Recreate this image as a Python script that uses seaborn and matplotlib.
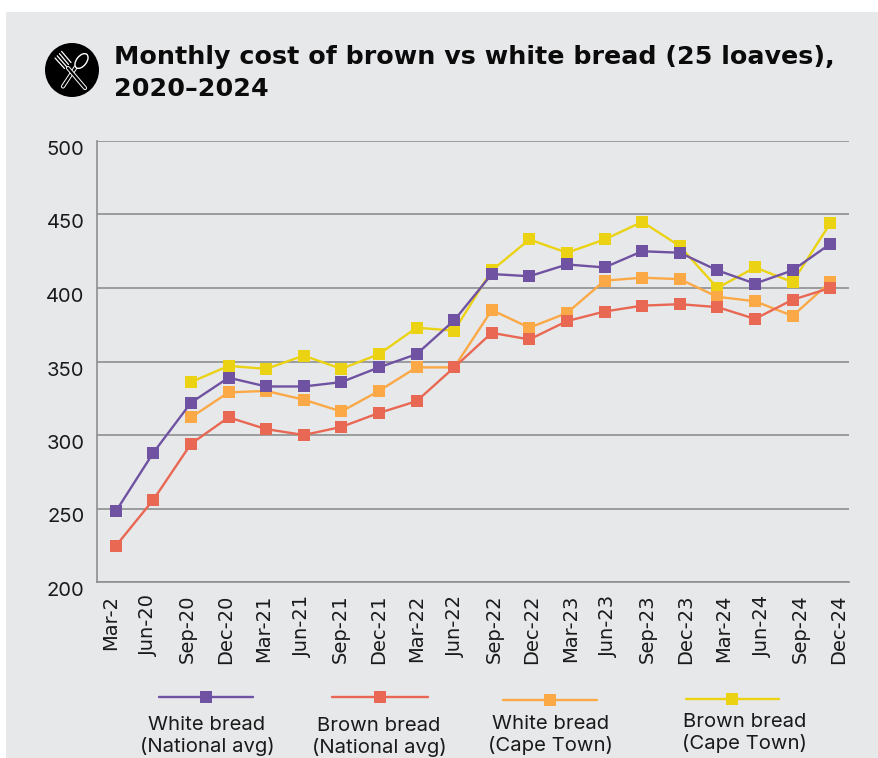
import matplotlib
matplotlib.use("Agg")
import matplotlib.pyplot as plt
from matplotlib.lines import Line2D
from matplotlib.patches import Circle, Ellipse, Rectangle
from matplotlib.transforms import ScaledTranslation
import pandas as pd
import seaborn as sns

quarters = ["Mar-2", "Jun-20", "Sep-20", "Dec-20", "Mar-21", "Jun-21", "Sep-21",
            "Dec-21", "Mar-22", "Jun-22", "Sep-22", "Dec-22", "Mar-23", "Jun-23",
            "Sep-23", "Dec-23", "Mar-24", "Jun-24", "Sep-24", "Dec-24"]
white_national = [248, 288, 322, 339, 333, 333, 336, 346, 355, 378,
                  409.5, 408, 416, 414, 425, 424, 412, 403, 412, 430]
brown_national = [224.5, 256, 294, 312, 304, 300, 305.5, 315, 323, 346,
                  369.5, 365, 377.5, 384, 388, 389, 387, 379, 392, 400]
white_cape = [None, None, 312, 329, 330, 324, 316, 330, 346, 346,
              385, 373, 383, 405, 407, 406, 394, 391, 381, 404]
brown_cape = [None, None, 336, 347, 345, 354, 345, 355, 373, 371,
              412, 433, 424, 433, 445, 428.5, 400, 414, 404, 444]

series_names = ["White bread (National avg)", "Brown bread (National avg)",
                "White bread (Cape Town)", "Brown bread (Cape Town)"]
series_colors = ["#7052A2", "#E96853", "#FBA846", "#EBD314"]
legend_lines = ["White bread\n(National avg)", "Brown bread\n(National avg)",
                "White bread\n(Cape Town)", "Brown bread\n(Cape Town)"]

BG = "#E7E8EA"
W, H = 879, 758
MARKER = 8.7
LINE = 1.7

sns.set_theme(style="white")
plt.rcParams["font.family"] = ["Inter", "DejaVu Sans"]

fig = plt.figure(figsize=(W / 100, H / 100), dpi=100, facecolor="white")


def px(x, y):
    """Figure-fraction coordinates for a pixel position measured from the top left."""
    return x / W, 1 - y / H


fig.patches.append(Rectangle((6 / W, 0), (W - 6) / W, 1 - 12 / H,
                             transform=fig.transFigure, facecolor=BG,
                             edgecolor="none", zorder=-5))

ax = fig.add_axes([97 / W, 1 - 582 / H, 752 / W, 441 / H])
ax.patch.set_alpha(0)

frame = pd.DataFrame({"quarter": quarters,
                      series_names[0]: white_national,
                      series_names[1]: brown_national,
                      series_names[2]: white_cape,
                      series_names[3]: brown_cape})
long = frame.melt(id_vars="quarter", var_name="series", value_name="cost").dropna()
long["pos"] = long["quarter"].map({q: i for i, q in enumerate(quarters)})

# Later series sit under earlier ones: yellow at the bottom, purple on top.
for name, color, z in zip(series_names, series_colors, [6, 5, 4, 3]):
    sns.lineplot(data=long[long["series"] == name], x="pos", y="cost", ax=ax,
                 color=color, linewidth=LINE, marker="s", markersize=MARKER,
                 markeredgewidth=0, errorbar=None, zorder=z, clip_on=False)

ax.set_xlim(-0.5, len(quarters) - 0.5)
ax.set_ylim(200, 500)
ax.set_yticks(range(200, 501, 50))
ax.set_xticks(range(len(quarters)))
ax.set_xticklabels(quarters, rotation=90, fontsize=14, color="#1a1a1a",
                   family=["DejaVu Sans"])
ax.set_xlabel("")
ax.set_ylabel("")
ax.tick_params(axis="x", length=0, pad=9)
ax.tick_params(axis="y", length=0, pad=9, labelsize=14.5, labelcolor="#1a1a1a")
for label in ax.get_yticklabels():
    label.set_verticalalignment("top")

# The month labels run on a slightly wider pitch than the plotted points.
for i, label in enumerate(ax.get_xticklabels()):
    dx = (-5.3 + 13.8 * i / (len(quarters) - 1)) / fig.dpi
    label.set_transform(label.get_transform() + ScaledTranslation(dx, 0, fig.dpi_scale_trans))

ax.grid(axis="y", color="#8E8F91", linewidth=1.2, zorder=1)
ax.set_axisbelow(True)
sns.despine(ax=ax, top=True, right=True)
for side in ("left", "bottom"):
    ax.spines[side].set_color("#8E8F91")
    ax.spines[side].set_linewidth(1.2)

# Title
for text, y in (("Monthly cost of brown vs white bread (25 loaves),", 57),
                ("2020–2024", 89)):
    fig.text(*px(114, y), text, fontsize=18.3, fontweight="bold", color="#0b0b0b",
             family=["DejaVu Sans"], va="center", ha="left")

# Round badge with crossed cutlery
icon = fig.add_axes([45 / W, 1 - 97 / H, 54 / W, 54 / H])
icon.set_xlim(-27, 27)
icon.set_ylim(27, -27)
icon.axis("off")
icon.add_patch(Circle((0, 0), 27, facecolor="black", edgecolor="none"))
outline = dict(color="white", solid_capstyle="round")
fill = dict(color="black", solid_capstyle="round")
# spoon
icon.plot([3.5, -9], [-2.5, 16.5], linewidth=3.0, zorder=2, **outline)
icon.plot([3.5, -9], [-2.5, 16.5], linewidth=1.6, zorder=2.1, **fill)
icon.add_patch(Ellipse((9.5, -9), 10, 17, angle=38, facecolor="black",
                       edgecolor="white", linewidth=1.0, zorder=2.2))
# fork: handle, then the tines fanning from its neck
icon.plot([-4, 13], [-2, 18], linewidth=3.0, zorder=3, **outline)
icon.plot([-4, 13], [-2, 18], linewidth=1.6, zorder=3.1, **fill)
for x0, y0, x1, y1 in [(-17, -12, -7.5, -1.5), (-14.8, -14.2, -5.5, -3.5),
                       (-12.6, -16.4, -3.5, -5.5), (-10.4, -18.6, -1.0, -7.5)]:
    icon.plot([x0, x1], [y0, y1], color="white", linewidth=0.9, zorder=3.2,
              solid_capstyle="round")

# Legend keys and captions placed by hand in four uneven columns
key_spans = [(159, 253, 697), (332, 428, 697), (503, 597, 700), (686, 779, 699)]
caption_xy = [(207, 736), (379, 737), (551, 735), (745, 733)]
for (x0, x1, y), color, caption, (cx, cy) in zip(key_spans, series_colors, legend_lines, caption_xy):
    fig.add_artist(Line2D([x0 / W, x1 / W], [1 - y / H] * 2, color=color, linewidth=LINE,
                          transform=fig.transFigure))
    fig.add_artist(Line2D([(x0 + x1) / 2 / W], [1 - y / H], color=color, marker="s",
                          markersize=MARKER, markeredgewidth=0, linestyle="none",
                          transform=fig.transFigure))
    fig.text(*px(cx, cy), caption, fontsize=14.6, color="#1a1a1a",
             ha="center", va="center", linespacing=1.15)

fig.savefig("out.png", dpi=100, facecolor="white")
